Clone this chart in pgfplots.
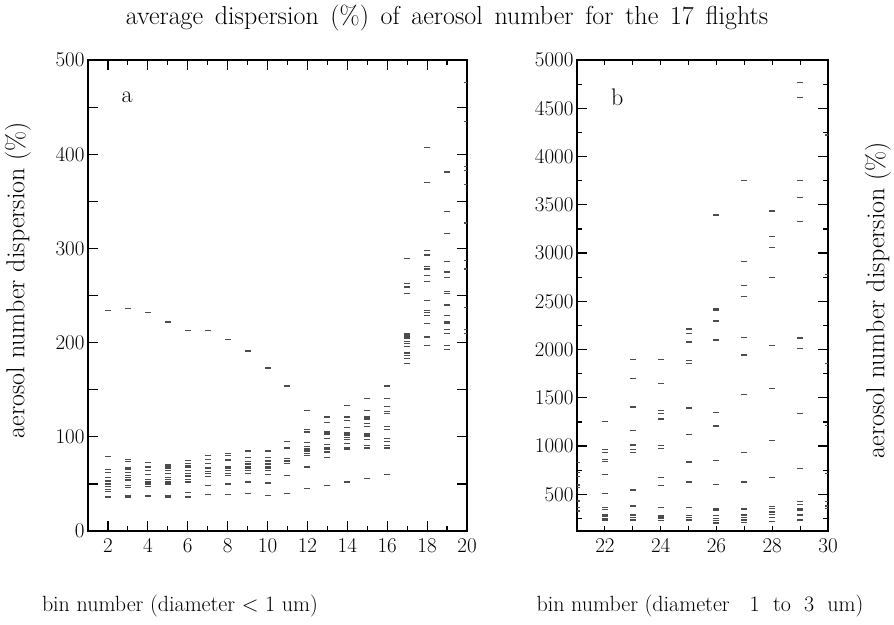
\documentclass[border=0pt]{standalone}
\usepackage{pgfplots}
\pgfplotsset{compat=1.18}
\pgfplotstableread{
x y
2 234
2 79
2 65
2 62
2 57
2 53
2 50
2 47
2 44
2 42
2 36
3 236
3 76
3 74
3 67
3 65
3 62
3 59
3 57
3 54
3 48
3 46
3 38
3 36
4 232
4 73
4 68
4 64
4 60
4 55
4 52
4 50
4 47
4 37
5 222
5 70
5 68
5 66
5 64
5 61
5 57
5 55
5 52
5 50
5 38
5 36
6 213
6 75
6 72
6 69
6 68
6 64
6 61
6 59
6 58
6 55
6 52
6 41
6 36
7 213
7 80
7 76
7 72
7 67
7 66
7 63
7 61
7 58
7 48
7 39
8 203
8 82
8 80
8 76
8 75
8 68
8 66
8 64
8 61
8 59
8 50
8 39
9 191
9 85
9 78
9 74
9 71
9 68
9 66
9 64
9 61
9 52
9 40
10 173
10 85
10 78
10 75
10 74
10 71
10 68
10 66
10 64
10 60
10 51
10 38
11 154
11 95
11 88
11 77
11 75
11 74
11 72
11 59
11 40
12 128
12 108
12 105
12 94
12 90
12 87
12 85
12 82
12 80
12 68
12 45
13 121
13 115
13 105
13 103
13 98
13 92
13 89
13 87
13 84
13 78
13 48
14 133
14 121
14 117
14 110
14 104
14 102
14 99
14 97
14 93
14 89
14 87
14 52
15 141
15 128
15 121
15 119
15 114
15 111
15 103
15 101
15 97
15 91
15 88
15 56
16 154
16 141
16 132
16 127
16 125
16 111
16 108
16 98
16 95
16 91
16 88
16 60
17 289
17 263
17 259
17 252
17 210
17 208
17 206
17 204
17 201
17 199
17 196
17 189
17 186
17 183
17 178
18 407
18 370
18 298
18 293
18 281
18 278
18 271
18 265
18 245
18 234
18 232
18 229
18 220
18 206
18 197
19 381
19 339
19 316
19 286
19 275
19 269
19 254
19 252
19 240
19 229
19 222
19 220
19 214
19 210
19 197
19 193
20 476
20 435
20 387
20 383
20 368
20 327
20 287
20 278
20 237
20 214
20 210
}\binsA
\pgfplotstableread{
x y
21 831
21 723
21 682
21 596
21 572
21 430
21 365
21 326
22 1252
22 966
22 935
22 862
22 837
22 707
22 510
22 361
22 344
22 285
22 267
22 250
22 233
23 1894
23 1698
23 1407
23 1397
23 1159
23 1010
23 966
23 931
23 544
23 378
23 285
23 261
23 233
24 1898
24 1646
24 1369
24 1338
24 1280
24 1003
24 972
24 671
24 589
24 361
24 275
24 254
24 226
25 2212
25 2164
25 2078
25 1888
25 1853
25 1394
25 1117
25 834
25 627
25 361
25 278
25 257
25 233
26 3394
26 2426
26 2409
26 2295
26 2098
26 1349
26 1207
26 848
26 600
26 354
26 337
26 278
26 251
26 226
26 202
27 3749
27 2910
27 2665
27 2547
27 2122
27 1943
27 1532
27 931
27 627
27 347
27 285
27 261
27 233
27 205
28 3435
28 3169
28 3059
28 2748
28 2044
28 1594
28 1059
28 671
28 371
28 350
28 316
28 292
28 261
28 215
29 4765
29 4612
29 3749
29 3577
29 3324
29 2119
29 2008
29 1338
29 765
29 427
29 396
29 347
29 334
29 285
29 233
30 4223
30 2779
30 1856
30 1210
30 717
30 427
30 378
30 350
}\binsB
\begin{document}
\begin{tikzpicture}
\useasboundingbox (-88pt,-93pt) rectangle (806pt,531pt);
\pgfplotsset{
  panel/.style={
    scale only axis, height=471pt,
    axis line style={line width=1.4pt},
    every tick/.style={black, line width=1.2pt},
    tick align=inside,
    tick label style={font=\fontsize{21}{23}\selectfont},
    /pgf/number format/assume math mode=true,
    /pgf/number format/1000 sep={},
    clip marker paths=true,
    xticklabel style={yshift=-4pt},
  },
  dashes/.style={only marks, mark=-, mark size=3pt, mark options={line width=1.3pt, draw=black!70}},
}
\begin{axis}[panel, at={(0pt,0pt)}, anchor=south west, width=379pt,
  xmin=1, xmax=20, ymin=0, ymax=500,
  xtick={2,4,...,20}, minor xtick={1,3,...,19},
  ytick={0,50,...,500}, yticklabels={0,,100,,200,,300,,400,,500},
  major tick length=10pt, minor tick length=5pt,
]
\addplot[dashes] table[x=x,y=y] {\binsA};
\node[font=\fontsize{24}{28}\selectfont, anchor=center] at (rel axis cs:0.103,0.921) {a};
\end{axis}
\begin{axis}[panel, at={(489pt,0pt)}, anchor=south west, width=251pt,
  xmin=21, xmax=30, ymin=120, ymax=5000,
  xtick={22,24,...,30}, minor xtick={21,22,...,30},
  major x tick style=transparent,
  ytick={500,1000,...,5000}, minor ytick={250,750,...,4750},
  major tick length=10pt, minor tick length=5pt,
]
\addplot[dashes] table[x=x,y=y] {\binsB};
\node[font=\fontsize{24}{28}\selectfont, anchor=center] at (rel axis cs:0.16,0.921) {b};
\end{axis}
\node[font=\fontsize{26}{30}\selectfont] at (359pt,513pt) {\spaceskip=0.45em average dispersion (\%) of aerosol number for the 17 flights};
\node[font=\fontsize{22}{26}\selectfont] at (92pt,-75pt) {bin number (diameter < 1 um)};
\node[font=\fontsize{22}{26}\selectfont] at (612pt,-75pt) {bin number (diameter\hspace{20pt}\spaceskip=0.6em 1 to 3 um)};
\node[font=\fontsize{26}{30}\selectfont, rotate=90] at (-70pt,251pt) {aerosol number dispersion (\%)};
\node[font=\fontsize{26}{30}\selectfont, rotate=90] at (790pt,231pt) {aerosol number dispersion (\%)};
\end{tikzpicture}
\end{document}
